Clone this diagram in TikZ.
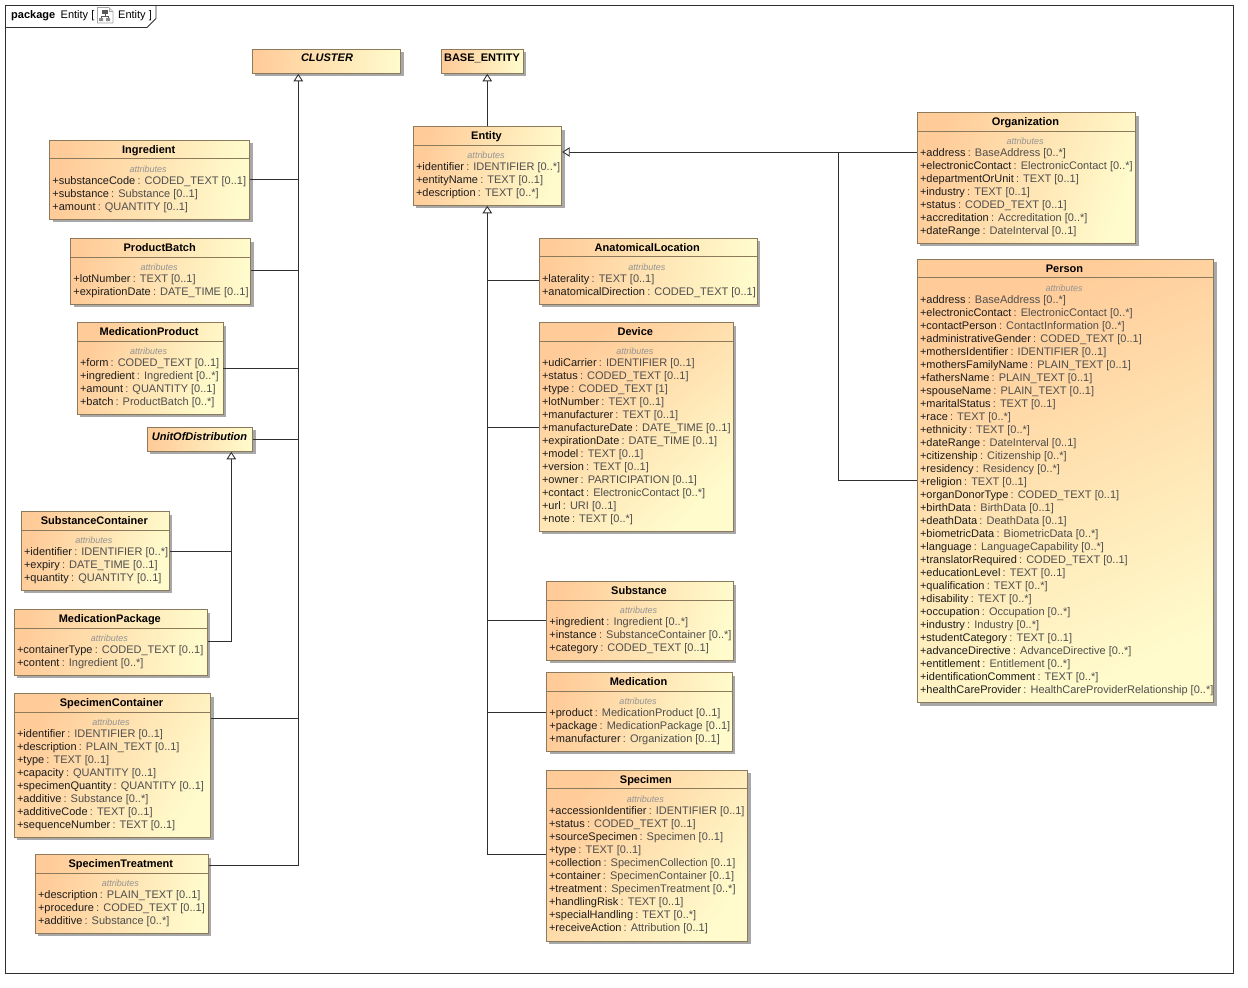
\documentclass[tikz,border=0pt]{standalone}
\usepackage{fontspec}
\setmainfont{Liberation Sans}
\usetikzlibrary{arrows.meta, fit, shadows}

\definecolor{boxorange}{HTML}{FFCB98}
\definecolor{boxyellow}{HTML}{FFFBCC}
\definecolor{boxedge}{HTML}{8C7A5C}
\definecolor{attrname}{HTML}{1C1C1C}
\definecolor{attrtype}{HTML}{4E4E4E}
\definecolor{linkdark}{HTML}{303030}

\tikzset{
  classbox/.style={draw=boxedge, line width=.9pt, inner sep=0pt, left color=boxorange,
    right color=boxyellow,
    drop shadow={shadow xshift=3pt, shadow yshift=-3pt, fill=black, opacity=.34}},
  classname/.style={inner sep=0pt, anchor=base, font=\fontsize{11}{13}\selectfont\bfseries},
  kindlabel/.style={inner sep=0pt, text=gray!85, font=\fontsize{9}{11}\selectfont\itshape},
  attrlist/.style={inner sep=0pt, anchor=north west, align=left, font=\fontsize{11}{13}\selectfont},
  framelabel/.style={inner sep=0pt, anchor=base west, font=\fontsize{11}{13}\selectfont},
  linkline/.style={draw=linkdark, line width=.9pt},
  isaline/.style={linkline, -{Triangle[open, fill=white, length=7.5pt, width=9.5pt]}}
}

\newcommand{\attr}[2]{{\color{attrname}+#1}\hspace{2.2pt}{\color{attrtype}: #2}}

% name, left, top, right, bottom
\newcommand{\umlbox}[5]{
  \pgfmathsetmacro{\boxangle}{atan(((#4-#2)/(#5-#3))^2)}
  \node[classbox, shading angle=\boxangle, fit={(#2,#3) (#4,#5)}] (#1) {};
}

% name, left, top, right, bottom, title, attribute lines
\newcommand{\umlclass}[7]{
  \umlbox{#1}{#2}{#3}{#4}{#5}
  \node[classname] (#1title) at ([yshift=-13.4pt, xshift=-1pt]#1.north) {#6};
  \draw[boxedge, line width=.9pt] ([yshift=-19pt]#1.north west) -- ([yshift=-19pt]#1.north east);
  \node[kindlabel] (#1kind) at ([yshift=-29pt, xshift=-1.5pt]#1.north) {attributes};
  \node[attrlist] (#1list) at ([xshift=3pt, yshift=-34pt]#1.north west) {\rule{0pt}{10pt}#7};
}

\begin{document}
\begin{tikzpicture}[x=1pt, y=-1pt]
  \useasboundingbox (0,0) rectangle (1248,988);
  \fill[white] (0,0) rectangle (1248,988);

  % diagram frame
  \draw[linkdark, line width=.9pt] (5.5,5.5) rectangle (1233.5,973.5);
  \draw[linkdark, line width=.9pt] (5.5,27.5) -- (147,27.5) -- (156,18.5) -- (156,5.5);
  \node[framelabel] (pkgword) at (11,18) {\bfseries package};
  \node[framelabel] (pkgopen) at (60.5,18) {Entity [};
  \node[framelabel] (pkgclose) at (118,18) {Entity ]};
  \draw[gray!70, line width=.7pt, fill=white] (97.5,7.5) -- (109,7.5) -- (113,11.5) -- (113,23) -- (97.5,23) -- cycle;
  \draw[gray!70, line width=.5pt] (109,7.5) -- (109,11.5) -- (113,11.5);
  \fill[black!65] (102,9.5) rectangle (108,13.5);
  \fill[black!45] (99,18) rectangle (103,21) (106,18) rectangle (110,21);
  \draw[black!65, line width=.6pt] (105,13.5) -- (105,16) (101,18) -- (101,16) -- (108,16) -- (108,18);

  % abstract parents
  \umlbox{cluster}{252.3}{49.3}{400.7}{73.3}
  \node[classname] (clustertitle) at (327,61.8) {\itshape CLUSTER};
  \umlbox{baseentity}{441.3}{49.3}{523.3}{73.3}
  \node[classname] (baseentitytitle) at (482,61.8) {BASE\_ENTITY};
  \umlbox{unitofdistribution}{147.3}{427.3}{252.7}{451.3}
  \node[classname] (unitofdistributiontitle) at (199.5,440) {\itshape UnitOfDistribution};

  \umlclass{ingredient}{49.7}{140.3}{249.7}{219.3}{Ingredient}{%
    \attr{substanceCode}{CODED\_TEXT [0..1]}\\
    \attr{substance}{Substance [0..1]}\\
    \attr{amount}{QUANTITY [0..1]}}
  \umlclass{productbatch}{70.7}{238.7}{250.7}{304.3}{ProductBatch}{%
    \attr{lotNumber}{TEXT [0..1]}\\
    \attr{expirationDate}{DATE\_TIME [0..1]}}
  \umlclass{medicationproduct}{77.3}{322.7}{223}{414.3}{MedicationProduct}{%
    \attr{form}{CODED\_TEXT [0..1]}\\
    \attr{ingredient}{Ingredient [0..*]}\\
    \attr{amount}{QUANTITY [0..1]}\\
    \attr{batch}{ProductBatch [0..*]}}
  \umlclass{substancecontainer}{21.3}{511.7}{169.3}{590.3}{SubstanceContainer}{%
    \attr{identifier}{IDENTIFIER [0..*]}\\
    \attr{expiry}{DATE\_TIME [0..1]}\\
    \attr{quantity}{QUANTITY [0..1]}}
  \umlclass{medicationpackage}{14.3}{609.7}{207.3}{675.3}{MedicationPackage}{%
    \attr{containerType}{CODED\_TEXT [0..1]}\\
    \attr{content}{Ingredient [0..*]}}
  \umlclass{specimencontainer}{14.3}{693.7}{210.7}{837.3}{SpecimenContainer}{%
    \attr{identifier}{IDENTIFIER [0..1]}\\
    \attr{description}{PLAIN\_TEXT [0..1]}\\
    \attr{type}{TEXT [0..1]}\\
    \attr{capacity}{QUANTITY [0..1]}\\
    \attr{specimenQuantity}{QUANTITY [0..1]}\\
    \attr{additive}{Substance [0..*]}\\
    \attr{additiveCode}{TEXT [0..1]}\\
    \attr{sequenceNumber}{TEXT [0..1]}}
  \umlclass{specimentreatment}{35.3}{854.7}{208.3}{933.3}{SpecimenTreatment}{%
    \attr{description}{PLAIN\_TEXT [0..1]}\\
    \attr{procedure}{CODED\_TEXT [0..1]}\\
    \attr{additive}{Substance [0..*]}}

  \umlclass{entity}{413.3}{126.7}{561.7}{205.3}{Entity}{%
    \attr{identifier}{IDENTIFIER [0..*]}\\
    \attr{entityName}{TEXT [0..1]}\\
    \attr{description}{TEXT [0..*]}}
  \umlclass{anatomicallocation}{539.3}{238.3}{757.3}{304.3}{AnatomicalLocation}{%
    \attr{laterality}{TEXT [0..1]}\\
    \attr{anatomicalDirection}{CODED\_TEXT [0..1]}}
  \umlclass{device}{539.3}{322.7}{733.3}{531.3}{Device}{%
    \attr{udiCarrier}{IDENTIFIER [0..1]}\\
    \attr{status}{CODED\_TEXT [0..1]}\\
    \attr{type}{CODED\_TEXT [1]}\\
    \attr{lotNumber}{TEXT [0..1]}\\
    \attr{manufacturer}{TEXT [0..1]}\\
    \attr{manufactureDate}{DATE\_TIME [0..1]}\\
    \attr{expirationDate}{DATE\_TIME [0..1]}\\
    \attr{model}{TEXT [0..1]}\\
    \attr{version}{TEXT [0..1]}\\
    \attr{owner}{PARTICIPATION [0..1]}\\
    \attr{contact}{ElectronicContact [0..*]}\\
    \attr{url}{URI [0..1]}\\
    \attr{note}{TEXT [0..*]}}
  \umlclass{substance}{546.7}{581.7}{733.3}{660.3}{Substance}{%
    \attr{ingredient}{Ingredient [0..*]}\\
    \attr{instance}{SubstanceContainer [0..*]}\\
    \attr{category}{CODED\_TEXT [0..1]}}
  \umlclass{medication}{546.7}{672.7}{732.3}{751.3}{Medication}{%
    \attr{product}{MedicationProduct [0..1]}\\
    \attr{package}{MedicationPackage [0..1]}\\
    \attr{manufacturer}{Organization [0..1]}}
  \umlclass{specimen}{546.3}{770.3}{747.5}{941}{Specimen}{%
    \attr{accessionIdentifier}{IDENTIFIER [0..1]}\\
    \attr{status}{CODED\_TEXT [0..1]}\\
    \attr{sourceSpecimen}{Specimen [0..1]}\\
    \attr{type}{TEXT [0..1]}\\
    \attr{collection}{SpecimenCollection [0..1]}\\
    \attr{container}{SpecimenContainer [0..1]}\\
    \attr{treatment}{SpecimenTreatment [0..*]}\\
    \attr{handlingRisk}{TEXT [0..1]}\\
    \attr{specialHandling}{TEXT [0..*]}\\
    \attr{receiveAction}{Attribution [0..1]}}

  \umlclass{organization}{917.3}{112.7}{1135.7}{243.3}{Organization}{%
    \attr{address}{BaseAddress [0..*]}\\
    \attr{electronicContact}{ElectronicContact [0..*]}\\
    \attr{departmentOrUnit}{TEXT [0..1]}\\
    \attr{industry}{TEXT [0..1]}\\
    \attr{status}{CODED\_TEXT [0..1]}\\
    \attr{accreditation}{Accreditation [0..*]}\\
    \attr{dateRange}{DateInterval [0..1]}}
  \umlclass{person}{917.3}{259.3}{1213.7}{702.7}{Person}{%
    \attr{address}{BaseAddress [0..*]}\\
    \attr{electronicContact}{ElectronicContact [0..*]}\\
    \attr{contactPerson}{ContactInformation [0..*]}\\
    \attr{administrativeGender}{CODED\_TEXT [0..1]}\\
    \attr{mothersIdentifier}{IDENTIFIER [0..1]}\\
    \attr{mothersFamilyName}{PLAIN\_TEXT [0..1]}\\
    \attr{fathersName}{PLAIN\_TEXT [0..1]}\\
    \attr{spouseName}{PLAIN\_TEXT [0..1]}\\
    \attr{maritalStatus}{TEXT [0..1]}\\
    \attr{race}{TEXT [0..*]}\\
    \attr{ethnicity}{TEXT [0..*]}\\
    \attr{dateRange}{DateInterval [0..1]}\\
    \attr{citizenship}{Citizenship [0..*]}\\
    \attr{residency}{Residency [0..*]}\\
    \attr{religion}{TEXT [0..1]}\\
    \attr{organDonorType}{CODED\_TEXT [0..1]}\\
    \attr{birthData}{BirthData [0..1]}\\
    \attr{deathData}{DeathData [0..1]}\\
    \attr{biometricData}{BiometricData [0..*]}\\
    \attr{language}{LanguageCapability [0..*]}\\
    \attr{translatorRequired}{CODED\_TEXT [0..1]}\\
    \attr{educationLevel}{TEXT [0..1]}\\
    \attr{qualification}{TEXT [0..*]}\\
    \attr{disability}{TEXT [0..*]}\\
    \attr{occupation}{Occupation [0..*]}\\
    \attr{industry}{Industry [0..*]}\\
    \attr{studentCategory}{TEXT [0..1]}\\
    \attr{advanceDirective}{AdvanceDirective [0..*]}\\
    \attr{entitlement}{Entitlement [0..*]}\\
    \attr{identificationComment}{TEXT [0..*]}\\
    \attr{healthCareProvider}{HealthCareProviderRelationship [0..*]}}

  % arrow ends on the parents
  \coordinate (clusterjoin) at (298.3,73.8);
  \coordinate (unitjoin) at (231.3,451.8);
  \coordinate (entityjoin) at (487.3,205.8);
  \coordinate (baseentityjoin) at (487.3,73.8);
  \coordinate (entityside) at (562.2,152);
  \coordinate (specializebend) at (838.3,152);

  \draw[isaline] (entity.north -| entityjoin) -- (baseentityjoin);

  % left column
  \draw[linkline] (ingredient.east) -- (ingredient.east -| clusterjoin);
  \draw[linkline] ([yshift=1.5pt]productbatch.east) -- ([yshift=1.5pt]productbatch.east -| clusterjoin);
  \draw[linkline] (medicationproduct.east) -- (medicationproduct.east -| clusterjoin);
  \draw[linkline] (unitofdistribution.east) -- (unitofdistribution.east -| clusterjoin);
  \draw[linkline] ([yshift=47.2pt]specimencontainer.east) -- ([yshift=47.2pt]specimencontainer.east -| clusterjoin);
  \draw[isaline] ([yshift=28.7pt]specimentreatment.east) -- ([yshift=28.7pt]specimentreatment.east -| clusterjoin) -- (clusterjoin);

  \draw[linkline] (substancecontainer.east) -- (substancecontainer.east -| unitjoin);
  \draw[isaline] ([yshift=1.2pt]medicationpackage.east) -- ([yshift=1.2pt]medicationpackage.east -| unitjoin) -- (unitjoin);

  % middle column
  \draw[linkline] ([yshift=-8.7pt]anatomicallocation.west) -- ([yshift=-8.7pt]anatomicallocation.west -| entityjoin);
  \draw[linkline] (device.west) -- (device.west -| entityjoin);
  \draw[linkline] ([yshift=1pt]substance.west) -- ([yshift=1pt]substance.west -| entityjoin);
  \draw[linkline] (medication.west) -- (medication.west -| entityjoin);
  \draw[isaline] ([yshift=1pt]specimen.west) -- ([yshift=1pt]specimen.west -| entityjoin) -- (entityjoin);

  % right column
  \draw[isaline] (organization.west |- entityside) -- (entityside);
  \draw[linkline] ([yshift=.7pt]person.west) -- ([yshift=.7pt]person.west -| specializebend) -- (specializebend);
\end{tikzpicture}
\end{document}
